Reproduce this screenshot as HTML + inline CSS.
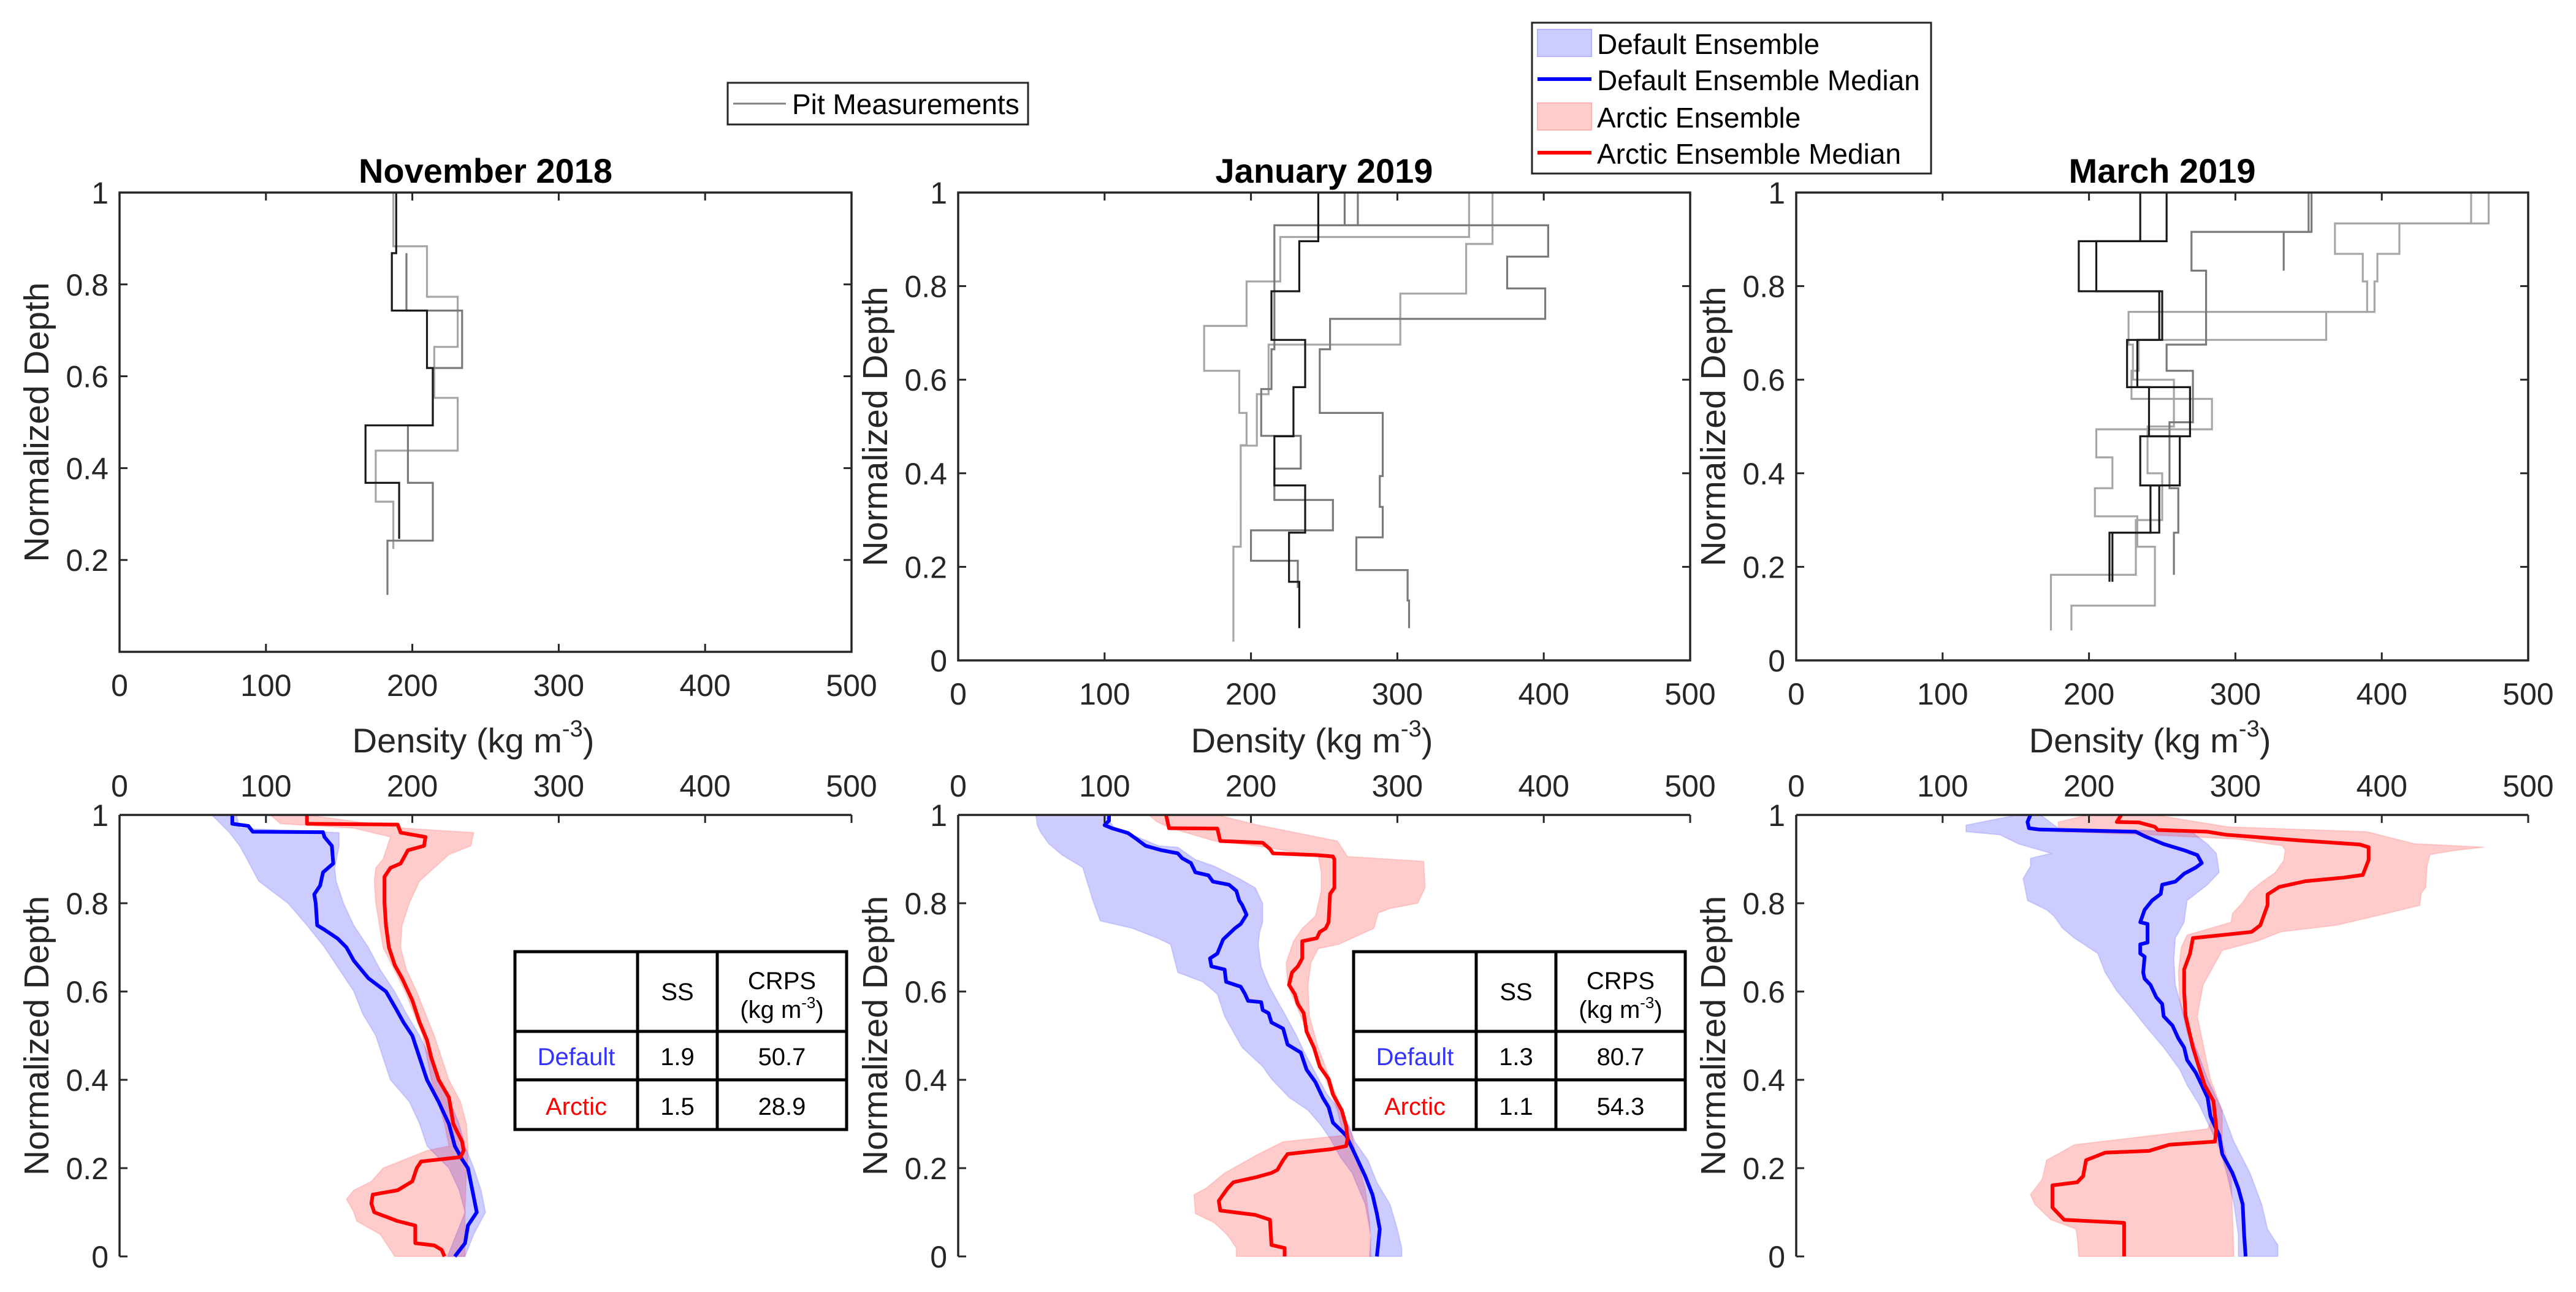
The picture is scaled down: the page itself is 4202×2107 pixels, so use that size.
<!DOCTYPE html>
<html><head><meta charset="utf-8">
<style>
html,body{margin:0;padding:0;background:#fff;}
svg{display:block;font-family:"Liberation Sans",Arial,sans-serif;}
</style></head>
<body>
<svg id="fig" xmlns="http://www.w3.org/2000/svg" width="4202" height="2107" viewBox="0 0 4202 2107">
<rect x="0" y="0" width="4202" height="2107" fill="#fff"/>
<g>
  <rect x="1187" y="135" width="490" height="68" fill="#fff" stroke="#262626" stroke-width="3"/>
  <line x1="1196" y1="169" x2="1282" y2="169" stroke="#808080" stroke-width="3"/>
  <text x="1292" y="186" font-size="46" fill="#000">Pit Measurements</text>
</g>
<g>
  <rect x="2499" y="37" width="651" height="246" fill="#fff" stroke="#262626" stroke-width="3"/>
  <rect x="2508" y="48" width="88" height="44" fill="#ccccff" stroke="#b3b3ff" stroke-width="2"/>
  <text x="2605" y="88" font-size="46">Default Ensemble</text>
  <line x1="2508" y1="129" x2="2596" y2="129" stroke="#0000ff" stroke-width="6"/>
  <text x="2605" y="147" font-size="46">Default Ensemble Median</text>
  <rect x="2508" y="168" width="88" height="44" fill="#ffcccc" stroke="#ffb3b3" stroke-width="2"/>
  <text x="2605" y="208" font-size="46">Arctic Ensemble</text>
  <line x1="2508" y1="249" x2="2596" y2="249" stroke="#ff0000" stroke-width="6"/>
  <text x="2605" y="267" font-size="46">Arctic Ensemble Median</text>
</g>
<g id="plots"></g>
</svg>
<script>
// ---------- Data ----------
const panelTitles = ["November 2018","January 2019","March 2019"];
const xTicks = [0,100,200,300,400,500];
const yTicksTop1 = [0.2,0.4,0.6,0.8,1];
const yTicks = [0,0.2,0.4,0.6,0.8,1];
const tickLabelsY = {"0":"0","0.2":"0.2","0.4":"0.4","0.6":"0.6","0.8":"0.8","1":"1"};

// Pit measurements: boundaries (normalized depth) and layer densities
const novPitBlackB = [1,0.868,0.743,0.618,0.493,0.368,0.246];
const novPitBlackR = [189,186,210,214,168,191];
const novPitLightB = [1,0.883,0.773,0.664,0.553,0.438,0.327,0.224];
const novPitLightR = [187,210,231,215,231,175,187];
const novPitMidB = [0.868,0.743,0.618,0.493,0.368,0.242,0.124];
const novPitMidR = [196,234,214,197,214,183];

const janPitBlackB = [1,.896,.789,.685,.584,.479,.374,.273,.168,.069];
const janPitBlackR = [246,233,214,237,229,216,237,226,233];
const janPitLightAB = [1,.905,.81,.715,.619,.529,.46,.343];
const janPitLightAR = [349,220,197,168,192,197,193];
const janPitLightBB = [1,.89,.784,.675,.569,.459,.243,.138,.04];
const janPitLightBR = [365,347,302,212,204,193,188,188];
const janPitMidAB = [1,.93,.863,.795,.73,.665,.529,.394,.328,.263,.193,.128,.069];
const janPitMidAR = [264,403,375,401,254,247,290,288,290,272,307,308];
const janPitMidBB = [1,.93,.73,.665,.58,.48,.41,.343,.278,.213,.155];
const janPitMidBR = [273,216,216,214,207,234,216,256,200,232];

const marPitK1B = [1,.896,.789,.685,.584,.479,.374,.273,.168];
const marPitK1R = [253,205,250,233,241,262,242,216];
const marPitK2B = [1,.896,.789,.685,.584,.479,.374,.273,.168];
const marPitK2R = [235,193,248,226,269,235,248,214];
const marPitG1B = [1,.916,.833,.675,.619,.509,.368,.273,.183];
const marPitG1R = [352,270,280,253,271,255,261,258];
const marPitG2B = [1,.916,.833];
const marPitG2R = [350,333];
const marPitL1B = [1,.934,.869,.81,.745,.685,.619,.559,.494,.434,.368,.308,.243,.117,.064];
const marPitL1R = [473,412,397,395,362,234,229,284,205,216,204,233,245,188];
const marPitL2B = [1,.934,.869,.81,.745,.675,.60,.50,.40,.30,.183,.064];
const marPitL2R = [461,368,387,390,227,230,258,240,250,232,174];

// Ensembles - November
const novBlueMedD = [1,0.98,0.975,0.962,0.961,0.95,0.93,0.89,0.87,0.84,0.82,0.80,0.75,0.74,0.72,0.70,0.67,0.63,0.60,0.56,0.53,0.50,0.45,0.40,0.35,0.30,0.25,0.22,0.20,0.15,0.10,0.07,0.03,0];
const novBlueMedV = [77,77,88,91,139,140,145,146,139,137,133,134,135,140,149,155,160,170,182,189,194,200,205,210,218,225,229,234,238,241,244,238,236,229];
const novBlueLoD = [1,0.96,0.93,0.90,0.85,0.80,0.75,0.70,0.65,0.60,0.55,0.50,0.45,0.40,0.35,0.30,0.25,0.20,0.15,0.10,0.05,0];
const novBlueLoV = [63,75,82,87,95,115,128,140,150,160,166,175,180,185,198,205,210,225,232,236,230,224];
const novBlueHiD = [1,0.97,0.96,0.93,0.88,0.85,0.80,0.75,0.70,0.65,0.60,0.55,0.50,0.45,0.40,0.35,0.30,0.25,0.20,0.15,0.10,0.05,0];
const novBlueHiV = [80,82,150,150,147,148,153,160,170,178,188,196,205,212,218,226,232,236,242,247,250,242,236];
const novRedMedD = [1,0.98,0.978,0.96,0.95,0.93,0.92,0.89,0.88,0.86,0.80,0.75,0.70,0.66,0.63,0.58,0.53,0.49,0.45,0.40,0.36,0.30,0.26,0.24,0.225,0.215,0.20,0.17,0.15,0.14,0.12,0.10,0.08,0.07,0.03,0.025,0.015,0];
const novRedMedV = [128,128,190,192,209,208,197,192,185,181,181,182,184,188,193,200,205,210,213,218,225,228,234,235,233,206,203,200,190,173,172,174,190,202,202,215,220,222];
const novRedLoD = [1,0.98,0.97,0.95,0.90,0.88,0.85,0.80,0.70,0.60,0.50,0.40,0.30,0.25,0.24,0.22,0.20,0.17,0.15,0.13,0.10,0.08,0.05,0];
const novRedLoV = [103,110,160,185,180,175,174,175,180,195,207,213,222,225,210,195,180,172,160,155,160,162,178,188];
const novRedHiD = [1,0.97,0.96,0.93,0.91,0.88,0.85,0.80,0.75,0.70,0.65,0.60,0.55,0.50,0.45,0.40,0.35,0.30,0.25,0.22,0.20,0.10,0.05,0];
const novRedHiV = [128,195,242,240,225,215,205,198,193,192,196,203,209,215,220,225,233,237,238,238,237,236,236,236];

// Ensembles - January
const janBlueMedD = [1,.987,.977,.97,.959,.945,.93,.92,.913,.902,.891,.87,.863,.849,.842,.828,.806,.796,.774,.753,.743,.718,.686,.675,.657,.65,.622,.611,.594,.579,.576,.558,.551,.53,.516,.48,.462,.423,.395,.36,.338,.303,.274,.232,.182,.14,.097,.062,0];
const janBlueMedV = [103,103,100,105,116,122,128,139,150,153,159,162,171,174,185,190,192,194,197,193,189,181,177,172,173,182,183,193,196,198,207,208,212,214,222,225,234,238,244,249,253,256,265,271,278,283,286,288,286];
const janBlueLoD = [1,.977,.962,.934,.909,.881,.849,.806,.76,.743,.721,.707,.643,.622,.594,.544,.508,.473,.43,.402,.36,.331,.296,.267,.225,.189,.118,.048,0];
const janBlueLoV = [53,54,56,62,71,85,88,92,97,119,136,145,150,167,177,182,188,194,208,214,226,239,248,254,261,269,278,282,281];
const janBlueHiD = [1,.97,.948,.93,.927,.899,.884,.856,.835,.8,.757,.735,.707,.657,.615,.579,.544,.501,.459,.416,.367,.331,.296,.26,.218,.168,.118,.062,.019,0];
const janBlueHiV = [100,107,124,137,150,162,175,192,203,208,208,206,205,207,212,218,224,231,237,244,252,261,267,271,280,286,295,300,303,303];
const janRedMedD = [1,.97,.969,.941,.937,.923,.913,.909,.906,.899,.835,.821,.757,.743,.735,.721,.714,.675,.657,.643,.615,.594,.572,.551,.509,.473,.43,.402,.367,.331,.296,.267,.25,.243,.232,.218,.196,.189,.179,.168,.154,.14,.126,.104,.094,.083,.026,.019,0];
const janRedMedV = [142,144,177,179,208,213,215,245,256,257,257,254,253,251,247,245,235,235,232,228,226,230,232,236,238,243,247,253,256,262,265,266,265,255,225,222,218,214,203,188,184,181,178,179,203,213,214,223,223];
const janRedLoD = [1,.984,.97,.941,.927,.906,.87,.828,.771,.743,.714,.665,.615,.544,.473,.402,.331,.274,.26,.232,.189,.154,.14,.097,.076,.048,.019,0];
const janRedLoV = [130,136,145,175,210,246,248,248,244,235,229,224,225,234,243,251,259,263,222,205,182,169,161,162,175,184,190,190];
const janRedHiD = [1,.977,.941,.906,.895,.835,.8,.788,.778,.743,.707,.697,.665,.615,.544,.473,.402,.331,.274,.225,.154,.083,0];
const janRedHiV = [177,205,259,266,318,319,314,295,287,284,260,246,241,239,240,246,254,262,269,272,278,281,282];

// Ensembles - March
const marBlueMedD = [1,.984,.97,.967,.962,.952,.934,.92,.909,.891,.881,.867,.849,.842,.821,.806,.785,.757,.753,.711,.707,.686,.679,.643,.629,.615,.587,.572,.544,.523,.494,.473,.445,.416,.388,.36,.317,.274,.232,.189,.154,.118,.048,0];
const marBlueMedV = [160,158,159,166,232,238,251,265,274,277,273,265,259,250,249,243,238,235,240,240,235,235,238,237,238,242,246,250,251,257,261,265,267,273,277,281,283,289,291,298,302,305,306,307];
const marBlueLoD = [1,.977,.962,.955,.934,.913,.902,.884,.856,.806,.785,.771,.743,.721,.686,.643,.601,.558,.516,.473,.423,.388,.345,.289,.246,.189,.118,.048,0];
const marBlueLoV = [151,116,116,139,152,174,160,160,155,158,171,176,182,190,206,211,219,230,240,251,262,267,275,283,289,294,299,302,302];
const marBlueHiD = [1,.97,.962,.934,.913,.87,.842,.806,.757,.721,.672,.615,.544,.473,.402,.331,.26,.189,.118,.062,.026,0];
const marBlueHiV = [167,179,270,281,287,289,281,267,265,259,258,259,265,273,281,291,299,310,318,322,329,329];
const marRedMedD = [1,.984,.983,.973,.966,.962,.955,.942,.933,.927,.898,.864,.858,.85,.837,.82,.796,.75,.735,.721,.686,.65,.6,.544,.473,.43,.388,.352,.289,.26,.253,.239,.235,.218,.182,.168,.161,.111,.083,.076,0];
const marRedMedV = [222,219,234,245,247,281,294,345,385,391,391,387,374,348,330,322,322,317,311,271,269,265,265,266,271,275,279,285,287,286,255,241,211,198,196,192,175,175,183,224,224];
const marRedLoD = [1,.984,.962,.955,.945,.93,.92,.897,.869,.848,.827,.802,.777,.757,.728,.7,.643,.58,.508,.438,.36,.303,.289,.274,.253,.218,.175,.14,.118,.083,.062,.04,0];
const marRedLoV = [199,179,179,241,302,332,334,333,327,318,310,305,298,297,267,263,261,262,267,275,281,283,281,243,190,171,168,160,163,174,191,192,193];
const marRedHiD = [1,.973,.962,.935,.927,.919,.91,.885,.835,.823,.795,.775,.75,.735,.714,.693,.615,.544,.402,.33,.26,.19,.1,0];
const marRedHiV = [245,295,390,422,470,449,433,431,430,427,426,401,369,331,315,291,278,274,283,291,291,297,298,299];

// Skill tables
const tableRows = ["Default","Arctic"];
const novSS = ["1.9","1.5"];
const novCRPS = ["50.7","28.9"];
const janSS = ["1.3","1.1"];
const janCRPS = ["80.7","54.3"];

// ---------- Drawing ----------
const NS = "http://www.w3.org/2000/svg";
const root = document.getElementById('plots');
function el(tag, attrs, parent, text){
  const e = document.createElementNS(NS, tag);
  for (const k in attrs) e.setAttribute(k, attrs[k]);
  if (text !== undefined) e.textContent = text;
  (parent||root).appendChild(e);
  return e;
}
const AX = "#262626";
const panelX = [195,1563,2930];
const W = 1194;
const topY = 314;
const topBottom = [1063,1077,1077];
const botTop = 1329, botBottom = 2049;

function makeScales(p, yt, yb){
  const x0 = panelX[p];
  return {
    sx: v => x0 + v/500*W,
    sy: d => yb - d*(yb-yt)
  };
}

function drawTop(p, pits){
  const yb = topBottom[p];
  const s = makeScales(p, topY, yb);
  const x0 = panelX[p];
  const g = el('g', {});
  
  
  // pits
  pits.forEach((pit, i) => {
    let d = '';
    for (let k=0;k<pit.r.length;k++){
      const x = s.sx(pit.r[k]);
      d += (k===0 ? 'M' : 'L') + x.toFixed(1) + ',' + s.sy(pit.b[k]).toFixed(1);
      d += 'L' + x.toFixed(1) + ',' + s.sy(pit.b[k+1]).toFixed(1);
    }
    const path = el('path', {d:d, fill:'none', stroke:pit.c, 'stroke-width':3.2}, g);
    
    
  });
  // box
  const box = el('rect', {x:x0, y:topY, width:W, height:yb-topY, fill:'none', stroke:AX, 'stroke-width':3.5}, g);
  
  
  xTicks.forEach(v => {
    const x = s.sx(v);
    el('line', {x1:x, y1:yb, x2:x, y2:yb-13, stroke:AX, 'stroke-width':3}, g);
    el('line', {x1:x, y1:topY, x2:x, y2:topY+13, stroke:AX, 'stroke-width':3}, g);
    const t = el('text', {x:x, y:yb+72, 'font-size':50, 'text-anchor':'middle', fill:AX}, g, String(v));
    
    
  });
  const yt = p===0 ? yTicksTop1 : yTicks;
  yt.forEach(v => {
    const y = s.sy(v);
    el('line', {x1:x0, y1:y, x2:x0+13, y2:y, stroke:AX, 'stroke-width':3}, g);
    el('line', {x1:x0+W, y1:y, x2:x0+W-13, y2:y, stroke:AX, 'stroke-width':3}, g);
    const t = el('text', {x:x0-18, y:y+18, 'font-size':50, 'text-anchor':'end', fill:AX}, g, tickLabelsY[String(v)]);
    
    
  });
  const title = el('text', {x:x0+W/2, y:298, 'font-size':56, 'font-weight':'bold', 'text-anchor':'middle', fill:'#000'}, g, panelTitles[p]);
  
  
  const xl = el('text', {x:x0+W/2-20, y:1227, 'font-size':56, 'text-anchor':'middle', fill:AX}, g);
  
  
  el('tspan', {}, xl, 'Density (kg m');
  el('tspan', {dy:-26, 'font-size':38}, xl, '-3');
  el('tspan', {dy:26}, xl, ')');
  yLabel(g, x0-136, (topY+yb)/2);
}

function yLabel(g, cx, cy){
  const t = el('text', {x:cx, y:cy, 'font-size':57, 'text-anchor':'middle', fill:AX, transform:'rotate(-90 '+cx+' '+cy+')', dy:20}, g, 'Normalized Depth');
  
  
}

function linePath(s, D, V){
  return D.map((d,i)=> (i?'L':'M') + s.sx(V[i]).toFixed(1) + ',' + s.sy(d).toFixed(1)).join('');
}
function bandPath(s, loD, loV, hiD, hiV){
  let d = linePath(s, loD, loV);
  for (let i=hiD.length-1;i>=0;i--) d += 'L' + s.sx(hiV[i]).toFixed(1) + ',' + s.sy(hiD[i]).toFixed(1);
  return d + 'Z';
}

function drawBottom(p, e, table){
  const s = makeScales(p, botTop, botBottom);
  const x0 = panelX[p];
  const g = el('g', {});
  
  
  const bb = el('path', {d:bandPath(s, e.bLoD, e.bLoV, e.bHiD, e.bHiV), fill:'#0000ff', 'fill-opacity':0.2, stroke:'#0000ff', 'stroke-opacity':0.12, 'stroke-width':2}, g);
  
  
  const rb = el('path', {d:bandPath(s, e.rLoD, e.rLoV, e.rHiD, e.rHiV), fill:'#ff0000', 'fill-opacity':0.2, stroke:'#ff0000', 'stroke-opacity':0.12, 'stroke-width':2}, g);
  
  
  const bl = el('path', {d:linePath(s, e.bMedD, e.bMedV), fill:'none', stroke:'#0000ff', 'stroke-width':6, 'stroke-linejoin':'round'}, g);
  
  
  const rl = el('path', {d:linePath(s, e.rMedD, e.rMedV), fill:'none', stroke:'#ff0000', 'stroke-width':6, 'stroke-linejoin':'round'}, g);
  
  
  // axes: top and left
  el('line', {x1:x0, y1:botTop, x2:x0+W, y2:botTop, stroke:AX, 'stroke-width':3.5}, g);
  el('line', {x1:x0, y1:botTop, x2:x0, y2:botBottom, stroke:AX, 'stroke-width':3.5}, g);
  xTicks.forEach(v => {
    const x = s.sx(v);
    el('line', {x1:x, y1:botTop, x2:x, y2:botTop+13, stroke:AX, 'stroke-width':3}, g);
    const t = el('text', {x:x, y:botTop-30, 'font-size':50, 'text-anchor':'middle', fill:AX}, g, String(v));
    
    
  });
  yTicks.forEach(v => {
    const y = s.sy(v);
    el('line', {x1:x0, y1:y, x2:x0+13, y2:y, stroke:AX, 'stroke-width':3}, g);
    const t = el('text', {x:x0-18, y:y+18, 'font-size':50, 'text-anchor':'end', fill:AX}, g, tickLabelsY[String(v)]);
    
    
  });
  yLabel(g, x0-136, (botTop+botBottom)/2);
  if (table){
    const tx = x0 + 645, tg = el('g', {}, g);
    
    
    const cols = [tx, tx+200, tx+330, tx+541];
    const rows = [1552, 1682, 1761, 1842];
    el('rect', {x:cols[0], y:rows[0], width:cols[3]-cols[0], height:rows[3]-rows[0], fill:'#fff', stroke:'#000', 'stroke-width':5}, tg);
    [1,2].forEach(i=> el('line', {x1:cols[i], y1:rows[0], x2:cols[i], y2:rows[3], stroke:'#000', 'stroke-width':5}, tg));
    [1,2].forEach(i=> el('line', {x1:cols[0], y1:rows[i], x2:cols[3], y2:rows[i], stroke:'#000', 'stroke-width':5}, tg));
    const c1 = (cols[1]+cols[2])/2, c2 = (cols[2]+cols[3])/2, c0 = (cols[0]+cols[1])/2;
    el('text', {x:c1, y:1631, 'font-size':40, 'text-anchor':'middle'}, tg, 'SS');
    el('text', {x:c2, y:1613, 'font-size':40, 'text-anchor':'middle'}, tg, 'CRPS');
    const u = el('text', {x:c2, y:1660, 'font-size':40, 'text-anchor':'middle'}, tg);
    el('tspan', {}, u, '(kg m');
    el('tspan', {dy:-16, 'font-size':26}, u, '-3');
    el('tspan', {dy:16}, u, ')');
    const rowY = [1737, 1818];
    const rowColors = ['#3333ff', '#ff0000'];
    tableRows.forEach((r,i)=>{
      el('text', {x:c0, y:rowY[i], 'font-size':40, 'text-anchor':'middle', fill:rowColors[i]}, tg, r);
      el('text', {x:c1, y:rowY[i], 'font-size':40, 'text-anchor':'middle'}, tg, table.ss[i]);
      el('text', {x:c2, y:rowY[i], 'font-size':40, 'text-anchor':'middle'}, tg, table.crps[i]);
    });
  }
}

const DARK = '#1a1a1a', MID = '#7a7a7a', LIGHT = '#a6a6a6';
drawTop(0, [
  {b:novPitLightB, r:novPitLightR, c:LIGHT},
  {b:novPitMidB, r:novPitMidR, c:MID},
  {b:novPitBlackB, r:novPitBlackR, c:DARK}
]);
drawTop(1, [
  {b:janPitLightAB, r:janPitLightAR, c:LIGHT},
  {b:janPitLightBB, r:janPitLightBR, c:LIGHT},
  {b:janPitMidAB, r:janPitMidAR, c:MID},
  {b:janPitMidBB, r:janPitMidBR, c:MID},
  {b:janPitBlackB, r:janPitBlackR, c:DARK}
]);
drawTop(2, [
  {b:marPitL1B, r:marPitL1R, c:LIGHT},
  {b:marPitL2B, r:marPitL2R, c:LIGHT},
  {b:marPitG1B, r:marPitG1R, c:MID},
  {b:marPitG2B, r:marPitG2R, c:MID},
  {b:marPitK1B, r:marPitK1R, c:DARK},
  {b:marPitK2B, r:marPitK2R, c:DARK}
]);
drawBottom(0, {bMedD:novBlueMedD,bMedV:novBlueMedV,bLoD:novBlueLoD,bLoV:novBlueLoV,bHiD:novBlueHiD,bHiV:novBlueHiV,
  rMedD:novRedMedD,rMedV:novRedMedV,rLoD:novRedLoD,rLoV:novRedLoV,rHiD:novRedHiD,rHiV:novRedHiV}, {ss:novSS, crps:novCRPS});
drawBottom(1, {bMedD:janBlueMedD,bMedV:janBlueMedV,bLoD:janBlueLoD,bLoV:janBlueLoV,bHiD:janBlueHiD,bHiV:janBlueHiV,
  rMedD:janRedMedD,rMedV:janRedMedV,rLoD:janRedLoD,rLoV:janRedLoV,rHiD:janRedHiD,rHiV:janRedHiV}, {ss:janSS, crps:janCRPS});
drawBottom(2, {bMedD:marBlueMedD,bMedV:marBlueMedV,bLoD:marBlueLoD,bLoV:marBlueLoV,bHiD:marBlueHiD,bHiV:marBlueHiV,
  rMedD:marRedMedD,rMedV:marRedMedV,rLoD:marRedLoD,rLoV:marRedLoV,rHiD:marRedHiD,rHiV:marRedHiV}, null);
</script>
</body></html>
